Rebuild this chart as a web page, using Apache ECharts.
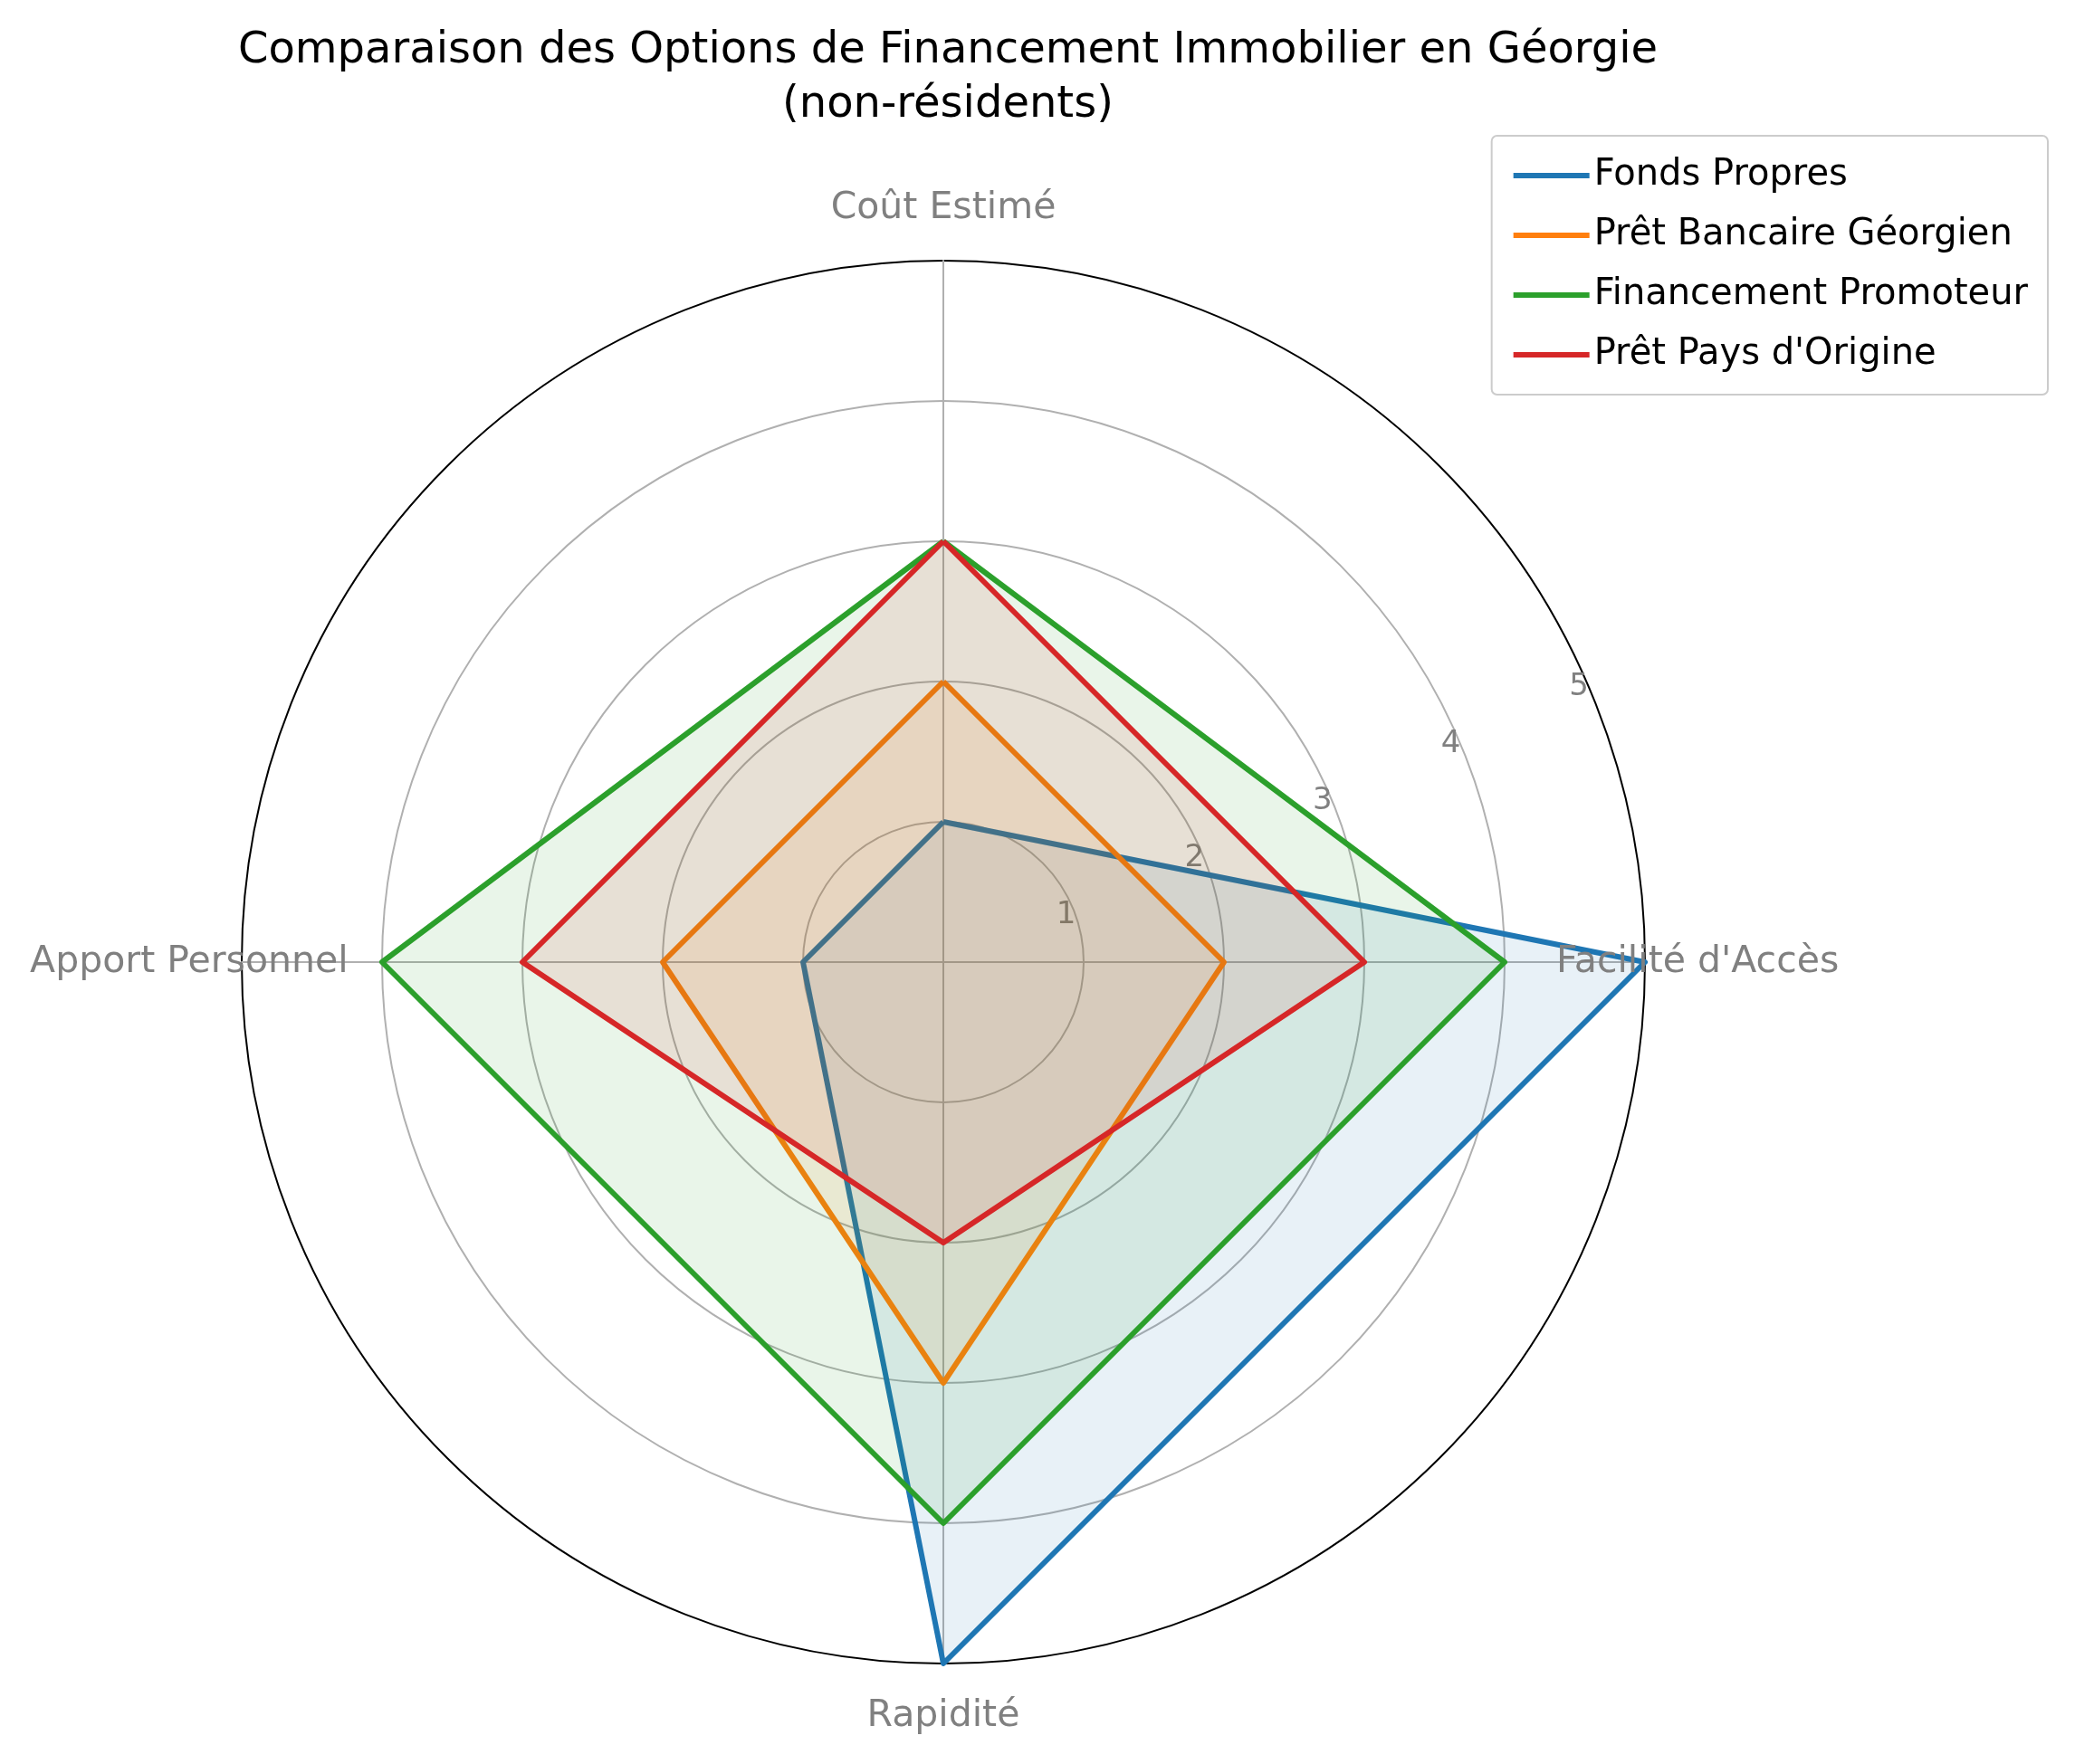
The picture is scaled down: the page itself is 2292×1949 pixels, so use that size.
<!DOCTYPE html>
<html>
<head>
<meta charset="utf-8">
<script src="https://cdn.jsdelivr.net/npm/echarts@6/dist/echarts.min.js"></script>
<style>html,body{margin:0;background:#fff}#c{width:2292px;height:1949px}</style>
</head>
<body>
<div id="c"></div>
<script>
// clockwise from top: Coût, Facilité, Rapidité, Apport (radar goes counter-clockwise, so reorder)
const indicators = ['Coût Estimé', 'Apport Personnel', 'Rapidité', "Facilité d'Accès"];
const seriesNames = ['Fonds Propres', 'Prêt Bancaire Géorgien', 'Financement Promoteur', "Prêt Pays d'Origine"];
const fondsPropres = [1, 1, 5, 5];
const pretBancaire = [2, 2, 3, 2];
const promoteur = [3, 4, 4, 4];
const pretOrigine = [3, 3, 2, 3];
const tickLabels = ['1', '2', '3', '4', '5'];
const colors = ['#1f77b4', '#ff7f0e', '#2ca02c', '#d62728'];

const values = [fondsPropres, pretBancaire, promoteur, pretOrigine];
const center = [1042, 1063];
const radius = 775;
const nameDist = radius * 1.075;

// axis names centred on a ring just outside the chart, like matplotlib
const nameText = indicators.map((n, i) => {
  const a = Math.PI / 2 + i * Math.PI / 2;
  return {
    type: 'text', z: 10,
    x: center[0] + nameDist * Math.cos(a),
    y: center[1] - nameDist * Math.sin(a),
    style: { text: n, fill: '#808080', font: '41px "DejaVu Sans"', align: 'center', verticalAlign: 'middle' }
  };
});

const chart = echarts.init(document.getElementById('c'));
chart.setOption({
  title: {
    text: 'Comparaison des Options de Financement Immobilier en Géorgie\n(non-résidents)',
    left: 1042, top: 22, textAlign: 'center',
    textStyle: { fontFamily: 'DejaVu Sans', fontSize: 48, fontWeight: 'normal', color: '#000', lineHeight: 60 }
  },
  legend: {
    orient: 'vertical', right: 30, top: 150,
    data: seriesNames,
    icon: 'rect', itemWidth: 84, itemHeight: 6, itemGap: 26,
    padding: [24, 22, 24, 24],
    borderColor: '#ccc', borderWidth: 2, borderRadius: 6,
    textStyle: { fontFamily: 'DejaVu Sans', fontSize: 40, color: '#000' }
  },
  graphic: nameText,
  radar: {
    center: center, radius: radius, shape: 'circle', splitNumber: 5,
    indicator: indicators.map(n => ({ name: n, max: 5, min: 0 })),
    axisName: { show: false },
    splitLine: { lineStyle: { color: ['#b0b0b0', '#b0b0b0', '#b0b0b0', '#b0b0b0', '#b0b0b0', '#000'], width: 2 } },
    splitArea: { show: false },
    axisLine: { lineStyle: { color: '#b0b0b0', width: 2 } }
  },
  polar: { center: center, radius: radius },
  angleAxis: { startAngle: 24, show: false, min: 0, max: 360 },
  radiusAxis: {
    min: 0, max: 5, interval: 1,
    axisLine: { show: false }, axisTick: { show: false }, splitLine: { show: false },
    axisLabel: { color: '#808080', fontFamily: 'DejaVu Sans', fontSize: 34,
      formatter: v => (v === 0 ? '' : tickLabels[v - 1]), margin: -12 }
  },
  series: [{
    type: 'radar',
    symbol: 'none',
    data: seriesNames.map((n, i) => ({
      name: n, value: values[i],
      lineStyle: { color: colors[i], width: 6 },
      itemStyle: { color: colors[i] },
      areaStyle: { color: colors[i], opacity: 0.1 }
    }))
  }]
});
</script>
</body>
</html>
